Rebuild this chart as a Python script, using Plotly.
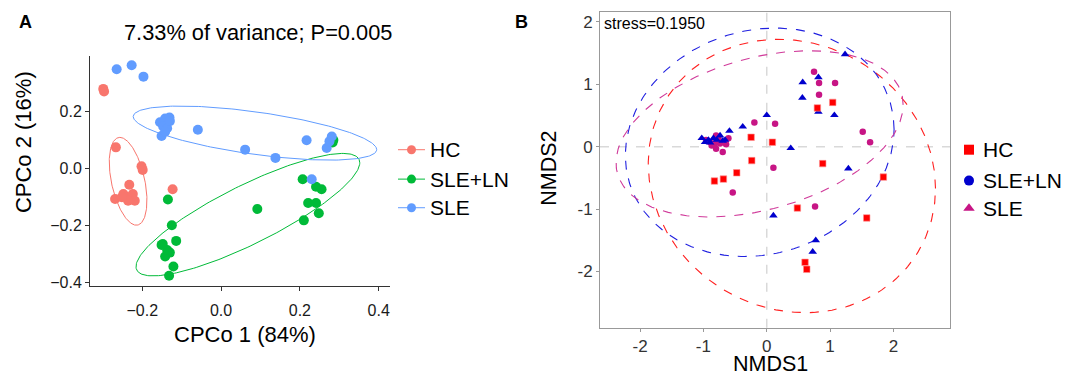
import numpy as np
import plotly.graph_objects as go

W, H = 1067, 380

# ---------------- Panel A data (CPCoA) ----------------
hc_x = [-0.299, -0.297, -0.267, -0.202, -0.199, -0.123, -0.269, -0.248, -0.233, -0.240, -0.224, -0.219, -0.236, -0.252]
hc_y = [0.280, 0.271, 0.075, 0.009, -0.004, -0.072, -0.106, -0.089, -0.056, -0.100, -0.089, -0.112, -0.112, -0.100]

ln_x = [0.285, 0.283, 0.207, 0.241, 0.255, 0.221, 0.241, 0.248, 0.210, 0.092, -0.135, -0.125,
        -0.148, -0.114, -0.130, -0.142, -0.121, -0.132, -0.137, -0.151]
ln_y = [0.101, 0.092, -0.037, -0.063, -0.072, -0.120, -0.120, -0.156, -0.181, -0.141, -0.108, -0.198,
        -0.264, -0.253, -0.294, -0.308, -0.343, -0.375, -0.285, -0.267]

sle_x = [-0.265, -0.227, -0.197, -0.155, -0.142, -0.131, -0.147, -0.137, -0.151, -0.142, -0.130,
         -0.059, 0.061, 0.138, 0.217, 0.268, 0.275, 0.281, 0.230]
sle_y = [0.349, 0.363, 0.323, 0.163, 0.176, 0.180, 0.148, 0.142, 0.115, 0.130, 0.167,
         0.137, 0.067, 0.038, 0.100, 0.073, 0.096, 0.113, -0.037]

# ellipse parameters: centre, two conjugate semi-diameters (data units)
ellA_hc = dict(c=(-0.236, -0.044), a=(-0.021, 0.154), b=(0.043, 0.0))
ellA_ln = dict(c=(0.068, -0.161), a=(0.284, 0.182), b=(0.0, 0.114))
ellA_sle = dict(c=(0.086, 0.125), a=(0.309, -0.058), b=(0.0, 0.075))

# ---------------- Panel B data (NMDS) ----------------
b_hc_x = [-0.247, 0.089, -0.237, -0.474, -0.684, -0.826, 0.800, 1.042, 0.884, 0.484, 1.579, 1.842, 0.605, 0.632]
b_hc_y = [0.150, 0.071, -0.224, -0.419, -0.520, -0.551, 0.620, 0.709, -0.272, -0.984, -1.142, -0.488, -1.854, -1.965]

b_ln_x = [1.237, 0.568, 0.816, 0.563, 0.816, 1.068, 0.0, -0.379, -0.589, 0.379, 1.289, 0.105, 0.774, 0.726,
          -1.026, -0.974, -0.921, -0.842, -0.737, -0.695, -0.789, -0.895, -0.658]
b_ln_y = [1.479, 1.031, 1.110, 0.783, 0.556, 0.504, 0.504, 0.319, 0.251, -0.024, -0.351, -1.105, -1.501, -1.685,
          0.135, 0.071, 0.108, 0.135, 0.177, 0.092, 0.108, 0.066, 0.108]

b_sle_x = [-0.958, -0.895, -0.800, -0.763, -0.816, -0.868, -0.737, -0.642, -0.605, -0.800, -0.695,
           -0.195, 0.132, 0.105, -0.537, 0.763, 0.747, 0.826, 1.079, 0.826, 1.516, 1.632]
b_sle_y = [0.108, 0.071, 0.177, 0.135, 0.055, 0.018, 0.050, 0.040, 0.135, -0.034, -0.087,
           0.388, 0.367, -0.340, -0.736, -0.958, 1.200, 1.020, 1.020, 0.831, 0.240, 0.071]

ellB_hc = dict(c=(0.397, -0.47), a=(2.268, -0.20), b=(0.0, 2.181))
ellB_ln = dict(c=(-0.111, 0.07), a=(2.122, 0.21), b=(0.0, 1.818))
ellB_sle = dict(c=(-0.113, 0.205), a=(2.267, 0.465), b=(0.0, 1.248))

groups = ["HC", "SLE+LN", "SLE"]
colA = {"HC": "#F8766D", "SLE+LN": "#00BA38", "SLE": "#619CFF"}
colB = {"HC": "#FF0000", "SLE+LN": "#0000CD", "SLE": "#C71585"}
colB_ell = {"HC": "#FF2020", "SLE+LN": "#2020E0", "SLE": "#D03A9A"}

FONT = "Liberation Sans, Arial, sans-serif"


def ellipse(p, n=240):
    t = np.linspace(0, 2 * np.pi, n)
    cx, cy = p["c"]
    ax, ay = p["a"]
    bx, by = p["b"]
    return cx + ax * np.cos(t) + bx * np.sin(t), cy + ay * np.cos(t) + by * np.sin(t)


fig = go.Figure()

# Panel A ellipses
for g, p in zip(groups, [ellA_hc, ellA_ln, ellA_sle]):
    ex, ey = ellipse(p)
    fig.add_trace(go.Scatter(x=ex, y=ey, mode="lines", line=dict(color=colA[g], width=1),
                             showlegend=False, hoverinfo="skip", xaxis="x", yaxis="y"))
# Panel A points
for g, xs, ys in zip(groups, [hc_x, ln_x, sle_x], [hc_y, ln_y, sle_y]):
    fig.add_trace(go.Scatter(x=xs, y=ys, mode="markers", marker=dict(color=colA[g], size=10),
                             showlegend=False, xaxis="x", yaxis="y"))

# Panel B ellipses
for g, p in zip(groups, [ellB_hc, ellB_ln, ellB_sle]):
    ex, ey = ellipse(p)
    fig.add_trace(go.Scatter(x=ex, y=ey, mode="lines", line=dict(color=colB_ell[g], width=1.1, dash="dash"),
                             showlegend=False, hoverinfo="skip", xaxis="x2", yaxis="y2"))
# Panel B points
fig.add_trace(go.Scatter(x=b_sle_x, y=b_sle_y, mode="markers",
                         marker=dict(color=colB["SLE"], size=6.5, symbol="circle"),
                         showlegend=False, xaxis="x2", yaxis="y2"))
fig.add_trace(go.Scatter(x=b_ln_x, y=b_ln_y, mode="markers",
                         marker=dict(color=colB["SLE+LN"], size=7.5, symbol="triangle-up"),
                         showlegend=False, xaxis="x2", yaxis="y2"))
fig.add_trace(go.Scatter(x=b_hc_x, y=b_hc_y, mode="markers",
                         marker=dict(color=colB["HC"], size=6.5, symbol="square",
                                     line=dict(color="#FF9090", width=0.6)),
                         showlegend=False, xaxis="x2", yaxis="y2"))


def px(x):
    return x / W


def py(y):
    return 1 - y / H


layout = dict(
    width=W, height=H,
    margin=dict(l=0, r=0, t=0, b=0),
    paper_bgcolor="white", plot_bgcolor="rgba(0,0,0,0)",
    font=dict(family=FONT, color="#000"),
    showlegend=False,
    xaxis=dict(domain=[px(90), px(390)], range=[-0.3327, 0.4287], tickvals=[-0.2, 0.0, 0.2, 0.4],
               ticktext=["\u22120.2", "0.0", "0.2", "0.4"], anchor="y",
               showgrid=False, zeroline=False, showline=True, linecolor="#333", linewidth=1,
               ticks="outside", ticklen=4, tickcolor="#333", tickfont=dict(size=16, color="#1a1a1a"),
               ticklabelstandoff=6, mirror=False),
    yaxis=dict(domain=[py(290), py(56.7)], range=[-0.4118, 0.3955], tickvals=[-0.4, -0.2, 0.0, 0.2],
               ticktext=["\u22120.4", "\u22120.2", "0.0", "0.2"], anchor="x",
               showgrid=False, zeroline=False, showline=True, linecolor="#333", linewidth=1,
               ticks="outside", ticklen=4, tickcolor="#333", tickfont=dict(size=16, color="#1a1a1a"),
               mirror=False),
    xaxis2=dict(domain=[px(600), px(950)], range=[-2.633, 2.894], tickvals=[-2, -1, 0, 1, 2],
                ticktext=["-2", "-1", "0", "1", "2"], anchor="y2",
                showgrid=False, zeroline=False, showline=True, linecolor="#999", linewidth=1, mirror=True,
                ticks="outside", ticklen=3, tickcolor="#999", tickfont=dict(size=17, color="#333")),
    yaxis2=dict(domain=[py(332), py(12)], range=[-2.90, 2.16], tickvals=[-2, -1, 0, 1, 2],
                ticktext=["-2", "-1", "0", "1", "2"], anchor="x2",
                showgrid=False, zeroline=False, showline=True, linecolor="#999", linewidth=1, mirror=True,
                ticks="outside", ticklen=3, tickcolor="#999", tickfont=dict(size=17, color="#333")),
    xaxis3=dict(domain=[0, 1], range=[0, 1], visible=False, anchor="y3", fixedrange=True),
    yaxis3=dict(domain=[0, 1], range=[0, 1], visible=False, anchor="x3", fixedrange=True),
)
fig.update_layout(**layout)

# dashed zero reference lines in panel B
fig.add_shape(type="line", xref="x2", yref="y2 domain", x0=0, x1=0, y0=0, y1=1,
              line=dict(color="#D9D9D9", width=1.5, dash="dash"), layer="below")
fig.add_shape(type="line", xref="x2 domain", yref="y2", x0=0, x1=1, y0=0, y1=0,
              line=dict(color="#D9D9D9", width=1.5, dash="dash"), layer="below")

ann = []


def text(x, y, s, size, bold=False, angle=0, xanchor="center", yanchor="middle", yshift=0, color="#000"):
    ann.append(dict(x=px(x), y=py(y), xref="paper", yref="paper", text=f"<b>{s}</b>" if bold else s,
                    showarrow=False, font=dict(size=size, color=color, family=FONT), borderpad=0,
                    xanchor=xanchor, yanchor=yanchor, textangle=angle, yshift=yshift))


text(25, 22, "A", 18, bold=True)
text(521, 22, "B", 18, bold=True)
text(258, 33, "7.33% of variance; P=0.005", 21.8)
text(245, 339, "CPCo 1 (84%)", 22)
text(23, 144, "CPCo 2 (16%)", 22, angle=-90)
text(770, 380, "NMDS1", 21.5, yanchor="bottom", yshift=-2)
text(549, 171, "NMDS2", 21.5, angle=-90)
text(603, 24, "stress=0.1950", 16, xanchor="left")

# Legend A (line + dot keys)
legA_y = [151.7, 181.5, 210.5]
for g, yy in zip(groups, legA_y):
    fig.add_shape(type="line", xref="paper", yref="paper", x0=px(398), x1=px(425), y0=py(yy), y1=py(yy),
                  line=dict(color=colA[g], width=1))
    fig.add_trace(go.Scatter(x=[px(411.5)], y=[py(yy)], xaxis="x3", yaxis="y3", mode="markers",
                             marker=dict(color=colA[g], size=9), showlegend=False, hoverinfo="skip"))
    text(429, yy, g, 21, xanchor="left")

# Legend B (keys as shown in the reference)
legB_sym = {"HC": "square", "SLE+LN": "circle", "SLE": "triangle-up"}
legB_col = {"HC": "#FF0000", "SLE+LN": "#0000CD", "SLE": "#C71585"}
legB_y = [151.7, 183, 211]
for g, yy in zip(groups, legB_y):
    fig.add_trace(go.Scatter(x=[px(969)], y=[py(yy)], xaxis="x3", yaxis="y3", mode="markers",
                             marker=dict(color=legB_col[g], size=10, symbol=legB_sym[g]),
                             showlegend=False, hoverinfo="skip"))
    text(982, yy, g, 21, xanchor="left")

fig.update_layout(annotations=ann)

fig.write_html("out.html", config={"displayModeBar": False},
               post_script="document.body.style.margin='0';document.body.style.padding='0';")
